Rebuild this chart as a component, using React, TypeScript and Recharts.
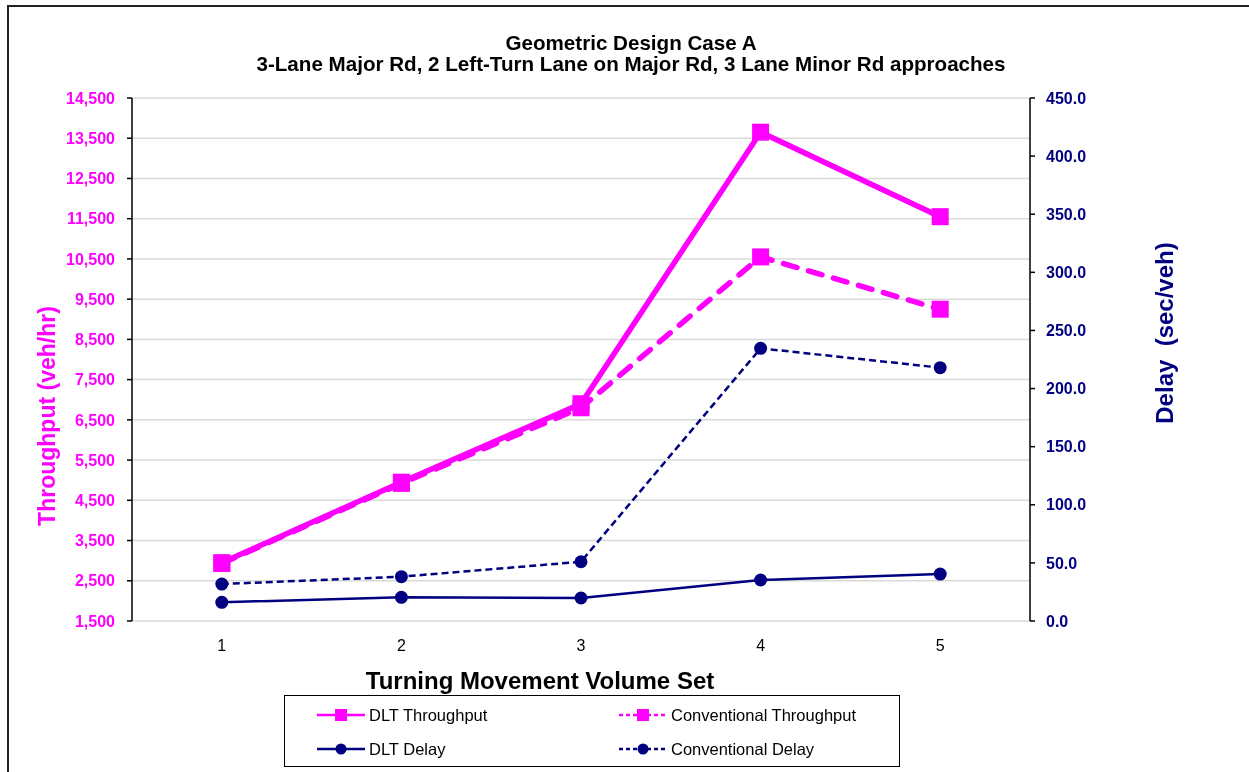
import React from 'react';
import { LineChart, Line, XAxis, YAxis, CartesianGrid } from 'recharts';

const volumeSets = [1, 2, 3, 4, 5];
const dltThroughput = [2950, 4950, 6900, 13650, 11550];
const convThroughput = [2930, 4920, 6800, 10550, 9250];
const dltDelay = [16.1, 20.4, 19.8, 35.3, 40.4];
const convDelay = [31.8, 38.1, 51.0, 234.6, 218.0];

const leftTicks = [1500, 2500, 3500, 4500, 5500, 6500, 7500, 8500, 9500, 10500, 11500, 12500, 13500, 14500];
const rightTicks = [0, 50, 100, 150, 200, 250, 300, 350, 400, 450];
const boundaryTicks = [0.5, 1.5, 2.5, 3.5, 4.5, 5.5];

const titleLine1 = 'Geometric Design Case A';
const titleLine2 = '3-Lane Major Rd, 2 Left-Turn Lane on Major Rd, 3 Lane Minor Rd approaches';
const xTitle = 'Turning Movement Volume Set';
const leftTitle = 'Throughput (veh/hr)';
const rightTitle = 'Delay  (sec/veh)';

const MAGENTA = '#FF00FF';
const NAVY = '#000080';
const FONT = '"Liberation Sans", Arial, sans-serif';

const data = volumeSets.map((v, i) => ({
  x: v,
  dltT: dltThroughput[i],
  convT: convThroughput[i],
  dltD: dltDelay[i],
  convD: convDelay[i],
}));

const series = [
  { key: 'dltT', name: 'DLT Throughput', color: MAGENTA, dash: undefined as string | undefined, marker: 'square' },
  { key: 'convT', name: 'Conventional Throughput', color: MAGENTA, dash: '4 3', marker: 'square' },
  { key: 'dltD', name: 'DLT Delay', color: NAVY, dash: undefined as string | undefined, marker: 'circle' },
  { key: 'convD', name: 'Conventional Delay', color: NAVY, dash: '4 3', marker: 'circle' },
];

const SquareDot = (props: any) => {
  const { cx, cy, index } = props;
  if (cx == null || cy == null) return <g key={index} />;
  return <rect key={index} x={cx - 8.5} y={cy - 8.5} width={17} height={17} fill={MAGENTA} />;
};

const CircleDot = (props: any) => {
  const { cx, cy, index } = props;
  if (cx == null || cy == null) return <g key={index} />;
  return <circle key={index} cx={cx} cy={cy} r={6.5} fill={NAVY} />;
};

const fmtThousands = (v: number) => v.toLocaleString('en-US');
const fmtDelay = (v: number) => v.toFixed(1);

const LegendSample = ({ color, dash, marker }: any) => (
  <svg width={48} height={16} style={{ display: 'block' }}>
    <line x1={0} y1={8} x2={48} y2={8} stroke={color} strokeWidth={2.5} strokeDasharray={dash} />
    {marker === 'square' ? (
      <rect x={18} y={2} width={12} height={12} fill={color} />
    ) : (
      <circle cx={24} cy={8} r={5.5} fill={color} />
    )}
  </svg>
);

export default function App() {
  return (
    <div style={{ position: 'relative', width: 1241, height: 764, top: -2, overflow: 'hidden', fontFamily: FONT, background: '#fff' }}>
      <div style={{ position: 'fixed', left: 7, top: 5, width: 1242, height: 2, background: '#222' }} />
      <div style={{ position: 'fixed', left: 7, top: 5, width: 2, height: 767, background: '#222' }} />
      <div style={{ position: 'absolute', left: 0, top: 0 }}>
        <LineChart width={1241} height={766} data={data} margin={{ top: 92, right: 0, bottom: 111, left: 0 }} style={{ fontFamily: FONT }}>
          <CartesianGrid xAxisId="grid" yAxisId="left" stroke="#d9d9d9" strokeWidth={1.5} verticalValues={boundaryTicks} horizontalValues={leftTicks} />
          <XAxis
            xAxisId="grid"
            type="number"
            dataKey="x"
            domain={[0.5, 5.5]}
            ticks={boundaryTicks}
            tick={false}
            tickSize={5}
            height={0}
            axisLine={{ stroke: '#000', strokeWidth: 1.5 }}
            tickLine={{ stroke: '#000', strokeWidth: 1.5 }}
            allowDataOverflow
          />
          <XAxis
            xAxisId="lbl"
            type="number"
            dataKey="x"
            domain={[0.5, 5.5]}
            ticks={volumeSets}
            axisLine={false}
            tickLine={false}
            tickMargin={13}
            height={40}
            tick={{ fill: '#000', fontSize: 16, fontFamily: FONT }}
            allowDataOverflow
          />
          <YAxis
            yAxisId="left"
            orientation="left"
            width={124}
            domain={[1500, 14500]}
            ticks={leftTicks}
            interval={0}
            tickFormatter={fmtThousands}
            tickSize={5}
            tickMargin={12}
            axisLine={{ stroke: '#000', strokeWidth: 1.5 }}
            tickLine={{ stroke: '#000', strokeWidth: 1.5 }}
            tick={{ fill: MAGENTA, fontSize: 16, fontWeight: 700, fontFamily: FONT }}
            allowDataOverflow
          />
          <YAxis
            yAxisId="right"
            orientation="right"
            width={219}
            domain={[0, 450]}
            ticks={rightTicks}
            interval={0}
            tickFormatter={fmtDelay}
            tickSize={5}
            tickMargin={11}
            axisLine={{ stroke: '#000', strokeWidth: 1.5 }}
            tickLine={{ stroke: '#000', strokeWidth: 1.5 }}
            tick={{ fill: NAVY, fontSize: 16, fontWeight: 700, fontFamily: FONT, textAnchor: 'start' }}
            allowDataOverflow
          />
          <Line
            xAxisId="lbl"
            yAxisId="right"
            dataKey="dltD"
            name="DLT Delay"
            stroke={NAVY}
            strokeWidth={2.5}
            dot={CircleDot}
            activeDot={false}
            isAnimationActive={false}
          />
          <Line
            xAxisId="lbl"
            yAxisId="right"
            dataKey="convD"
            name="Conventional Delay"
            stroke={NAVY}
            strokeWidth={2.5}
            strokeDasharray="7 4"
            dot={CircleDot}
            activeDot={false}
            isAnimationActive={false}
          />
          <Line
            xAxisId="lbl"
            yAxisId="left"
            dataKey="convT"
            name="Conventional Throughput"
            stroke={MAGENTA}
            strokeWidth={5.5}
            strokeDasharray="14 12"
            strokeLinecap="round"
            dot={SquareDot}
            activeDot={false}
            isAnimationActive={false}
          />
          <Line
            xAxisId="lbl"
            yAxisId="left"
            dataKey="dltT"
            name="DLT Throughput"
            stroke={MAGENTA}
            strokeWidth={5.5}
            dot={SquareDot}
            activeDot={false}
            isAnimationActive={false}
          />
        </LineChart>
      </div>

      <div style={{ position: 'absolute', left: 0, top: 26, width: 1246, textAlign: 'center', fontWeight: 700, fontSize: 20.6, lineHeight: '21px', color: '#000' }}>
        <div>{titleLine1}</div>
        <div>{titleLine2}</div>
      </div>

      <div style={{ position: 'absolute', left: 39, top: 410, transform: 'translate(-50%, -50%) rotate(-90deg)', whiteSpace: 'nowrap', fontWeight: 700, fontSize: 23, color: MAGENTA }}>
        {leftTitle}
      </div>
      <div style={{ position: 'absolute', left: 1157, top: 327, transform: 'translate(-50%, -50%) rotate(-90deg)', whiteSpace: 'pre', fontWeight: 700, fontSize: 24, color: NAVY }}>
        {rightTitle}
      </div>
      <div style={{ position: 'absolute', left: 532, top: 675, transform: 'translate(-50%, -50%)', whiteSpace: 'nowrap', fontWeight: 700, fontSize: 24, color: '#000' }}>
        {xTitle}
      </div>

      <div style={{ position: 'absolute', left: 276, top: 689, width: 616, height: 72, border: '1.5px solid #000', boxSizing: 'border-box', background: '#fff' }}>
        {series.map((s, i) => {
          const col = i % 2;
          const row = Math.floor(i / 2);
          return (
            <div key={s.key} style={{ position: 'absolute', left: col === 0 ? 32 : 334, top: row === 0 ? 10 : 44, display: 'flex', alignItems: 'center', height: 18 }}>
              <LegendSample color={s.color} dash={s.dash} marker={s.marker} />
              <span style={{ marginLeft: 4, fontSize: 16.5, color: '#000', whiteSpace: 'nowrap' }}>{s.name}</span>
            </div>
          );
        })}
      </div>
    </div>
  );
}
